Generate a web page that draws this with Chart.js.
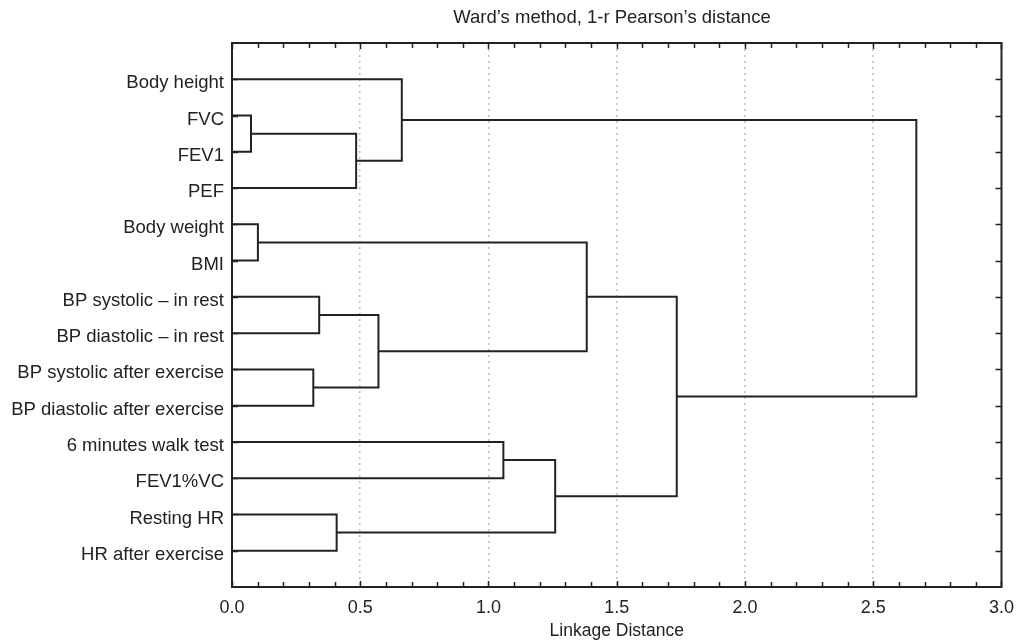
<!DOCTYPE html>
<html>
<head>
<meta charset="utf-8">
<script src="https://cdn.jsdelivr.net/npm/chart.js@4.4.1/dist/chart.umd.min.js"></script>
<style>
  html, body { margin: 0; padding: 0; background: #fff; }
  #wrap { width: 1024px; height: 640px; }
</style>
</head>
<body>
<div id="wrap"><canvas id="dendro" width="1024" height="640"></canvas></div>
<script>
// leaf order top to bottom
const leaves = [
    'Body height', 'FVC', 'FEV1', 'PEF', 'Body weight', 'BMI',
    'BP systolic \u2013 in rest', 'BP diastolic \u2013 in rest',
    'BP systolic after exercise', 'BP diastolic after exercise',
    '6 minutes walk test', 'FEV1%VC', 'Resting HR', 'HR after exercise'
];
// merge steps: left child, right child (0..13 = leaf, 14+ = earlier merge), linkage distance
const mergeLeft  = [1, 14, 0, 4, 8, 6, 19, 17, 10, 12, 22, 21, 16];
const mergeRight = [2, 3, 15, 5, 9, 7, 18, 20, 11, 13, 23, 24, 25];
const mergeDist  = [0.074, 0.484, 0.662, 0.101, 0.317, 0.340, 0.571, 1.383, 1.058, 0.408, 1.260, 1.734, 2.668];
const xTicks = [0, 0.5, 1.0, 1.5, 2.0, 2.5, 3.0];

const FONT = "'Liberation Sans', Arial, sans-serif";
const INK = '#222';

// node positions: leaves sit at their index, merged nodes at the mean of children
var nodeY = leaves.map((l, i) => i);
var nodeH = leaves.map(() => 0);
var datasets = [];
for (var i = 0; i < mergeDist.length; i++) {
    var a = mergeLeft[i], b = mergeRight[i], h = mergeDist[i];
    datasets.push({
        data: [
            { x: nodeH[a], y: nodeY[a] },
            { x: h, y: nodeY[a] },
            { x: h, y: nodeY[b] },
            { x: nodeH[b], y: nodeY[b] }
        ],
        showLine: true,
        borderColor: INK,
        borderWidth: 2,
        pointRadius: 0,
        tension: 0
    });
    nodeY.push((nodeY[a] + nodeY[b]) / 2);
    nodeH.push(h);
}

// frame + inward ticks, and the title placed like the original
const framePlugin = {
    id: 'frame',
    afterDraw(chart) {
        const ctx = chart.ctx;
        const area = chart.chartArea;
        const xs = chart.scales.x, ys = chart.scales.y;
        ctx.save();
        ctx.strokeStyle = INK;
        ctx.lineWidth = 2;
        ctx.strokeRect(area.left, area.top, area.right - area.left, area.bottom - area.top);
        ctx.lineWidth = 1.5;
        ctx.beginPath();
        for (var k = 0; k <= 30; k++) {
            var px = Math.round(xs.getPixelForValue(k / 10)) + 0.5;
            var len = (k % 5 === 0) ? 6 : 5;
            ctx.moveTo(px, area.bottom); ctx.lineTo(px, area.bottom - len);
            ctx.moveTo(px, area.top); ctx.lineTo(px, area.top + len);
        }
        leaves.forEach((l, j) => {
            var py = Math.round(ys.getPixelForValue(j)) + 0.5;
            ctx.moveTo(area.right, py); ctx.lineTo(area.right - 6, py);
            ctx.moveTo(area.left, py); ctx.lineTo(area.left + 6, py);
        });
        ctx.stroke();
        ctx.fillStyle = INK;
        ctx.font = '18.5px ' + FONT;
        ctx.textAlign = 'center';
        ctx.textBaseline = 'middle';
        ctx.fillText('Ward\u2019s method, 1-r Pearson\u2019s distance', 612, 18);
        ctx.restore();
    }
};

const chart = new Chart(document.getElementById('dendro').getContext('2d'), {
    type: 'scatter',
    data: { datasets: datasets },
    options: {
        responsive: false,
        animation: false,
        layout: { padding: { top: 43, right: 21, left: 0, bottom: 0 } },
        plugins: {
            legend: { display: false },
            tooltip: { enabled: false }
        },
        scales: {
            x: {
                type: 'linear',
                min: 0,
                max: 3,
                afterBuildTicks: function (scale) {
                    scale.ticks = xTicks.map(v => ({ value: v }));
                },
                afterFit: function (scale) { scale.height = 53; },
                ticks: {
                    callback: v => v.toFixed(1),
                    color: INK,
                    font: { family: FONT, size: 18 },
                    padding: 10,
                    maxRotation: 0
                },
                grid: {
                    color: ctx => (ctx.tick && ctx.tick.value > 0 && ctx.tick.value < 3) ? '#bdbdbd' : 'rgba(0,0,0,0)',
                    lineWidth: 1.5,
                    drawTicks: false
                },
                border: { display: false, dash: [2, 4] },
                title: {
                    display: true,
                    text: 'Linkage Distance',
                    color: INK,
                    font: { family: FONT, size: 17.5, lineHeight: 1.0 },
                    padding: { top: 0, bottom: 0 }
                }
            },
            y: {
                type: 'linear',
                reverse: true,
                min: -1,
                max: 14,
                afterBuildTicks: function (scale) {
                    scale.ticks = leaves.map((l, j) => ({ value: j }));
                },
                afterFit: function (scale) { scale.width = 232; },
                ticks: {
                    callback: v => leaves[v] || '',
                    color: INK,
                    font: { family: FONT, size: 18.5 },
                    padding: 8,
                    labelOffset: 4
                },
                grid: { display: false, drawTicks: false },
                border: { display: false }
            }
        }
    },
    plugins: [framePlugin]
});
</script>
</body>
</html>
